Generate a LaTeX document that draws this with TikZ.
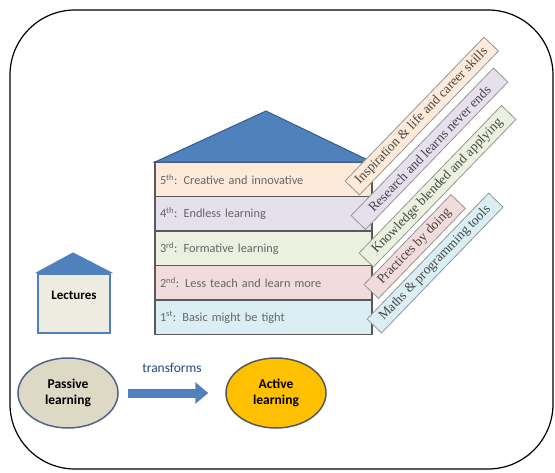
\documentclass[tikz,border=0pt]{standalone}
\usepackage{fontspec}
\setmainfont{Carlito}
\newfontfamily\tagfont{Liberation Serif}
\usetikzlibrary{positioning,arrows.meta,calc,shapes.geometric}
\definecolor{peach}{RGB}{253,234,218}
\definecolor{lilac}{RGB}{229,224,236}
\definecolor{sage}{RGB}{235,241,222}
\definecolor{blush}{RGB}{242,220,219}
\definecolor{sky}{RGB}{219,238,244}
\definecolor{floorline}{RGB}{89,89,89}
\definecolor{tagline}{RGB}{150,150,150}
\definecolor{roofblue}{RGB}{79,129,189}
\definecolor{roofedge}{RGB}{56,93,138}
\definecolor{lecfill}{RGB}{238,236,225}
\definecolor{passfill}{RGB}{221,217,196}
\definecolor{passline}{RGB}{80,100,140}
\definecolor{gold}{RGB}{255,192,0}
\definecolor{darknavy}{RGB}{31,73,125}

\begin{document}
\begin{tikzpicture}[x=1pt,y=-1pt,
    floor/.style={draw=floorline,line width=1.6pt,outer sep=0pt,minimum width=217pt,minimum height=34.5pt,text width=207pt,align=left,font=\fontsize{12.3}{14}\selectfont,text=black!60},
    tag/.style={draw=tagline,line width=0.8pt,rotate=46,anchor=west,minimum height=20pt,inner sep=1pt,font=\tagfont\fontsize{13.5}{14}\selectfont},
    bubble/.style={ellipse,line width=1.5pt,minimum width=100pt,minimum height=70pt,align=center,inner sep=1pt,font=\bfseries\fontsize{13.5}{16}\selectfont}]
    \useasboundingbox (0,0) rectangle (555,472);
    \draw[line width=1.2pt,rounded corners=65pt] (10,10) rectangle (553,469);
    % the five floors
    \node[floor,fill=peach,anchor=north west] (f5) at (155,162) {5\textsuperscript{th}: Creative and innovative};
    \node[floor,fill=lilac,below=0pt of f5] (f4) {4\textsuperscript{th}: Endless learning};
    \node[floor,fill=sage,below=0pt of f4] (f3) {3\textsuperscript{rd}: Formative learning};
    \node[floor,fill=blush,below=0pt of f3] (f2) {2\textsuperscript{nd}: Less teach and learn more};
    \node[floor,fill=sky,below=0pt of f2] (f1) {1\textsuperscript{st}: Basic might be tight};
    \coordinate (apex) at (266,111);
    \filldraw[fill=roofblue,draw=roofedge,line width=1pt] (f5.north west) -- (apex) -- (f5.north east) -- cycle;
    % tags
    \node[tag,fill=peach,text=peach!30!black,minimum width=200pt] (t5) at ($(f5.east)+(-20,9)$) {Inspiration \& life and career skills};
    \node[tag,fill=lilac,text=lilac!30!black,minimum width=205pt] (t4) at ($(f4.east)+(-14,9)$) {Research and learns never ends};
    \node[tag,fill=sage,text=sage!30!black,minimum width=205pt] (t3) at ($(f3.east)+(-6,12)$) {Knowledge blended and applying};
    \node[tag,fill=blush,text=blush!30!black,minimum width=125pt] (t2) at ($(f2.east)+(-1,9)$) {Practices by doing};
    \node[tag,fill=sky,text=sky!30!black,minimum width=175pt] (t1) at ($(f1.east)+(2,9)$) {Maths \& programming tools};
    % lectures house
    \node[draw=roofblue,line width=2pt,fill=lecfill,minimum width=72pt,minimum height=59pt,text depth=16pt,font=\bfseries\fontsize{13}{15}\selectfont] (lect) at (74,303) {Lectures};
    \coordinate (lapex) at (73,253);
    \filldraw[fill=roofblue,draw=roofblue,line width=1pt] (lect.north west) -- (lapex) -- (lect.north east) -- cycle;
    % passive to active
    \node[bubble,fill=passfill,draw=passline] (pass) at (68,393) {Passive\\learning};
    \node[bubble,fill=gold,draw=floorline] (act) at (276,393) {Active\\learning};
    \draw[roofblue,line width=9pt,-{Triangle[length=13pt,width=21pt]},shorten <=9pt,shorten >=17pt] (pass) -- (act)
      node[midway,above=13pt,text=darknavy,font=\fontsize{13.5}{15}\selectfont] (trf) {transforms};
\end{tikzpicture}
\end{document}
